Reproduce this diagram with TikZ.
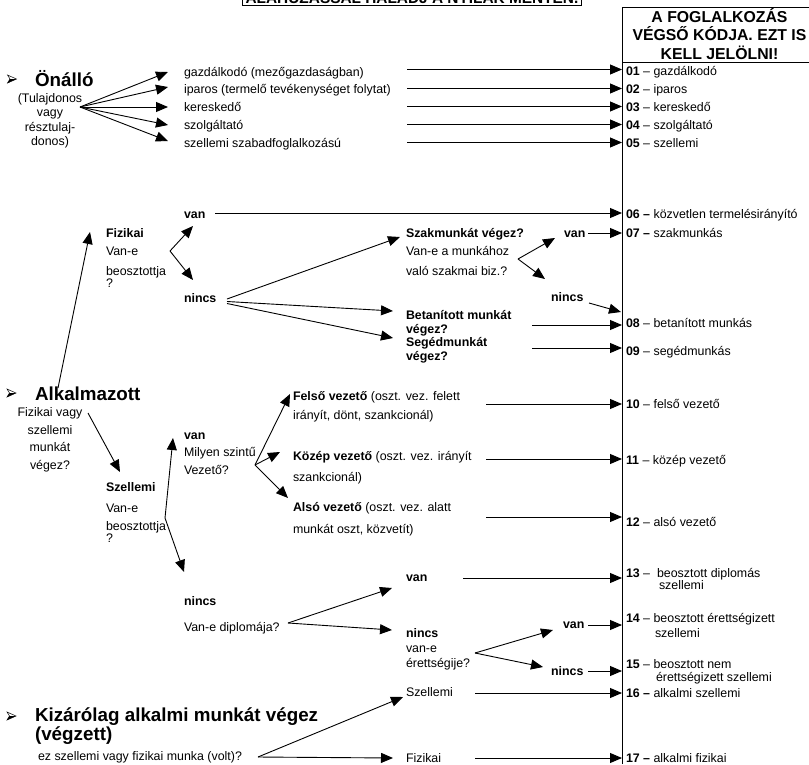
\documentclass[tikz,border=0pt]{standalone}
\usepackage{fontspec}
\setmainfont{Liberation Sans}
\usetikzlibrary{arrows.meta}
\newcommand\bodyf{\fontsize{12.4}{14.5}\selectfont}
\newcommand\bigf{\fontsize{18.8}{22}\selectfont\bfseries}
\newcommand\headf{\fontsize{15.8}{18.5}\selectfont\bfseries}
\newcommand\bul[2]{\begin{scope}[shift={(#1,#2)}]
 \draw[line width=0.5pt, line join=miter] (0,-4)--(9,0)--(0,4)--(2.5,0)--cycle;
 \fill (2.5,0)--(9,0)--(0,4)--cycle;\end{scope}}
\begin{document}
\begin{tikzpicture}[x=1pt,y=-1pt,
 lbl/.style={inner sep=0pt, outer sep=0pt, font=\bodyf, anchor=base west},
 blbl/.style={lbl, font=\bodyf\bfseries},
 clbl/.style={lbl, anchor=base},
 big/.style={inner sep=0pt, outer sep=0pt, font=\bigf, anchor=base west},
 head/.style={inner sep=0pt, font=\headf, anchor=base},
 arr/.style={line width=0.9pt, -{Triangle[length=12pt,width=10pt]}},
 ln/.style={line width=0.9pt}]
\useasboundingbox (0,0) rectangle (809,764);
% title box (cut off at the top)
\begin{scope}
\clip (0,0) rectangle (809,764);
\node[draw, line width=0.9pt, font=\fontsize{15.4}{18}\selectfont\bfseries, inner xsep=3.5pt, inner ysep=2pt, anchor=base] (title) at (412,3) {ALÁHÚZÁSSAL HALADJ A NYILAK MENTÉN.};
\end{scope}
% right panel
\coordinate (vb) at (622,764);
\coordinate (vt) at (622,7);
\coordinate (rt) at (809,7);
\coordinate (hl) at (622,62);
\coordinate (hr) at (809,62);
\draw[ln] (vb) -- (vt) -- (rt);
\draw[ln] (hl) -- (hr);
\node[head] (h1) at (719.5,22) {A FOGLALKOZÁS};
\node[head] (h2) at (719.5,40.5) {VÉGSŐ KÓDJA. EZT IS};
\node[head] (h3) at (719.5,59) {KELL JELÖLNI!};
% codes
\node[lbl] (c01) at (626,75.5) {\textbf{01} – gazdálkodó};
\node[lbl] (c02) at (626,93.5) {\textbf{02} – iparos};
\node[lbl] (c03) at (626,111.5) {\textbf{03} – kereskedő};
\node[lbl] (c04) at (626,129.5) {\textbf{04} – szolgáltató};
\node[lbl] (c05) at (626,147.5) {\textbf{05} – szellemi};
\node[lbl] (c06) at (626,218.5) {\textbf{06 –} közvetlen termelésirányító};
\node[lbl] (c07) at (626,237.5) {\textbf{07 –} szakmunkás};
\node[lbl] (c08) at (626,327.5) {\textbf{08} – betanított munkás};
\node[lbl] (c09) at (626,355) {\textbf{09} – segédmunkás};
\node[lbl] (c10) at (626,408.5) {\textbf{10} – felső vezető};
\node[lbl] (c11) at (626,464.5) {\textbf{11} – közép vezető};
\node[lbl] (c12) at (626,526) {\textbf{12} – alsó vezető};
\node[lbl] (c13) at (626,577) {\textbf{13} – \ beosztott diplomás};
\node[lbl] (c13b) at (659,589.5) {szellemi};
\node[lbl] (c14) at (626,622.5) {\textbf{14} – beosztott érettségizett};
\node[lbl] (c14b) at (655,637) {szellemi};
\node[lbl] (c15) at (626,668.5) {\textbf{15} – beosztott nem};
\node[lbl] (c15b) at (656,681.5) {érettségizett szellemi};
\node[lbl] (c16) at (626,697.5) {\textbf{16 –} alkalmi szellemi};
\node[lbl] (c17) at (626,762) {\textbf{17 –} alkalmi fizikai};
% ---------- Önálló
\bul{7.5}{79}
\node[big] (onallo) at (35,86) {Önálló};
\node[clbl] (tul1) at (50,102) {(Tulajdonos};
\node[clbl] (tul2) at (50,116.5) {vagy};
\node[clbl] (tul3) at (50,131) {résztulaj-};
\node[clbl] (tul4) at (50,145.5) {donos)};
\coordinate (oO) at (80,107);
\coordinate (t1) at (168,72);
\coordinate (t2) at (168,87);
\coordinate (t3) at (168,107);
\coordinate (t4) at (168,125);
\coordinate (t5) at (168,141);
\foreach \t in {t1,t2,t3,t4,t5} \draw[arr] (oO) -- (\t);
\node[lbl] (o1) at (184,76) {gazdálkodó (mezőgazdaságban)};
\node[lbl] (o2) at (184,93.5) {iparos (termelő tevékenységet folytat)};
\node[lbl] (o3) at (184,111.5) {kereskedő};
\node[lbl] (o4) at (184,129.5) {szolgáltató};
\node[lbl] (o5) at (184,147.5) {szellemi szabadfoglalkozású};
\foreach \i/\y in {1/69.5,2/88.5,3/106.5,4/124.5,5/142.5}{
  \coordinate (os\i) at (407,\y);
  \coordinate (oe\i) at (622,\y);
  \draw[arr] (os\i) -- (oe\i);}
% ---------- Alkalmazott
\bul{7}{393}
\node[big] (alk) at (35,400) {Alkalmazott};
\node[clbl] (fv1) at (50,416.5) {Fizikai vagy};
\node[clbl] (fv2) at (50,434) {szellemi};
\node[clbl] (fv3) at (50,451.5) {munkát};
\node[clbl] (fv4) at (50,469) {végez?};
\coordinate (alkup) at (58,388);
\coordinate (fiztip) at (90,232);
\draw[arr] (alkup) -- (fiztip);
% Fizikai
\node[blbl] (fiz1) at (106,237.5) {Fizikai};
\node[lbl] (fiz2) at (106,255.5) {Van-e};
\node[lbl] (fiz3) at (106,275.5) {beosztottja};
\node[lbl] (fiz4) at (106,287.5) {?};
\coordinate (fb) at (170,251);
\coordinate (fbv) at (193,226);
\coordinate (fbn) at (193,280);
\draw[arr] (fb) -- (fbv);
\draw[arr] (fb) -- (fbn);
\node[blbl] (van1) at (184,218.5) {van};
\coordinate (v1s) at (215,213);
\coordinate (v1e) at (622,213);
\draw[arr] (v1s) -- (v1e);
\node[blbl] (nin1) at (184,302) {nincs};
\coordinate (n1a) at (227,299);
\coordinate (n1b) at (227,301.5);
\coordinate (n1c) at (227,303.5);
\coordinate (szt) at (400,237);
\coordinate (bett) at (393,311);
\coordinate (segt) at (393,338);
\draw[arr] (n1a) -- (szt);
\draw[arr] (n1b) -- (bett);
\draw[arr] (n1c) -- (segt);
\node[blbl] (sz1) at (406,237.5) {Szakmunkát végez?};
\node[lbl] (sz2) at (406,255.5) {Van-e a munkához};
\node[lbl] (sz3) at (406,275.5) {való szakmai biz.?};
\coordinate (sb) at (518,259);
\coordinate (sbv) at (555,238);
\coordinate (sbn) at (545,279);
\draw[arr] (sb) -- (sbv);
\draw[arr] (sb) -- (sbn);
\node[blbl] (van2) at (564,237) {van};
\coordinate (v2s) at (588,233);
\coordinate (v2e) at (622,233);
\draw[arr] (v2s) -- (v2e);
\node[blbl] (nin2) at (551,301.5) {nincs};
\coordinate (n2s) at (589,303);
\coordinate (n2e) at (621,312);
\draw[arr] (n2s) -- (n2e);
\node[blbl] (bet1) at (406,319) {Betanított munkát};
\node[blbl] (bet2) at (406,333) {végez?};
\node[blbl] (seg1) at (406,346.5) {Segédmunkát};
\node[blbl] (seg2) at (406,360.5) {végez?};
\coordinate (b8s) at (532,325);
\coordinate (b8e) at (622,325);
\coordinate (b9s) at (532,348);
\coordinate (b9e) at (622,348);
\draw[arr] (b8s) -- (b8e);
\draw[arr] (b9s) -- (b9e);
% Szellemi
\coordinate (fvs) at (88,413);
\coordinate (fvt) at (120,472);
\draw[arr] (fvs) -- (fvt);
\node[blbl] (szel1) at (106,491) {Szellemi};
\node[lbl] (szel2) at (106,512) {Van-e};
\node[lbl] (szel3) at (106,530) {beosztottja};
\node[lbl] (szel4) at (106,542) {?};
\coordinate (zb) at (165,518);
\coordinate (zbv) at (173,438);
\coordinate (zbn) at (184,572);
\draw[arr] (zb) -- (zbv);
\draw[arr] (zb) -- (zbn);
\node[blbl] (van3) at (184,439) {van};
\node[lbl] (mil1) at (184,456.5) {Milyen szintű};
\node[lbl] (mil2) at (184,474.5) {Vezető?};
\coordinate (mb) at (255,465);
\coordinate (mbf) at (290,394);
\coordinate (mbk) at (280,452);
\coordinate (mba) at (288,498);
\draw[arr] (mb) -- (mbf);
\draw[arr] (mb) -- (mbk);
\draw[arr] (mb) -- (mba);
\node[lbl] (fel1) at (293,400) {\textbf{Felső vezető} (oszt. vez. felett};
\node[lbl] (fel2) at (293,419.5) {irányít, dönt, szankcionál)};
\node[lbl] (koz1) at (293,460.5) {\textbf{Közép vezető} (oszt. vez. irányít};
\node[lbl] (koz2) at (293,481) {szankcionál)};
\node[lbl] (als1) at (293,511.5) {\textbf{Alsó vezető} (oszt. vez. alatt};
\node[lbl] (als2) at (293,533.5) {munkát oszt, közvetít)};
\foreach \i/\y in {10/404,11/459,12/517}{
  \coordinate (vs\i) at (486,\y);
  \coordinate (ve\i) at (622,\y);
  \draw[arr] (vs\i) -- (ve\i);}
% nincs (szellemi)
\node[blbl] (nin3) at (184,605.5) {nincs};
\node[lbl] (dip) at (184,631.5) {Van-e diplomája?};
\coordinate (db) at (288,623);
\coordinate (dbv) at (392,588);
\coordinate (dbn) at (392,630);
\draw[arr] (db) -- (dbv);
\draw[arr] (db) -- (dbn);
\node[blbl] (van4) at (406,581.5) {van};
\coordinate (v4s) at (463,578);
\coordinate (v4e) at (622,578);
\draw[arr] (v4s) -- (v4e);
\node[blbl] (nin4) at (406,637.5) {nincs};
\node[lbl] (er1) at (406,652.5) {van-e};
\node[lbl] (er2) at (406,667) {érettségije?};
\coordinate (eb) at (475,653);
\coordinate (ebv) at (553,630);
\coordinate (ebn) at (543,667);
\draw[arr] (eb) -- (ebv);
\draw[arr] (eb) -- (ebn);
\node[blbl] (van5) at (563,628.5) {van};
\coordinate (v5s) at (588,625);
\coordinate (v5e) at (622,625);
\draw[arr] (v5s) -- (v5e);
\node[blbl] (nin5) at (551,675.5) {nincs};
\coordinate (n5s) at (588,671);
\coordinate (n5e) at (622,671);
\draw[arr] (n5s) -- (n5e);
% ---------- Kizárólag
\bul{7}{716}
\node[big] (kiz1) at (35,721) {Kizárólag alkalmi munkát végez};
\node[big] (kiz2) at (35,740) {(végzett)};
\node[lbl] (kiz3) at (38,760) {ez szellemi vagy fizikai munka (volt)?};
\coordinate (kb) at (258,757);
\coordinate (kbs) at (403,697);
\coordinate (kbf) at (393,758);
\draw[arr] (kb) -- (kbs);
\draw[arr] (kb) -- (kbf);
\node[lbl] (aszel) at (406,696.5) {Szellemi};
\node[lbl] (afiz) at (406,762) {Fizikai};
\coordinate (a16s) at (475,693);
\coordinate (a16e) at (622,693);
\coordinate (a17s) at (475,758);
\coordinate (a17e) at (622,758);
\draw[arr] (a16s) -- (a16e);
\draw[arr] (a17s) -- (a17e);
\end{tikzpicture}
\end{document}
